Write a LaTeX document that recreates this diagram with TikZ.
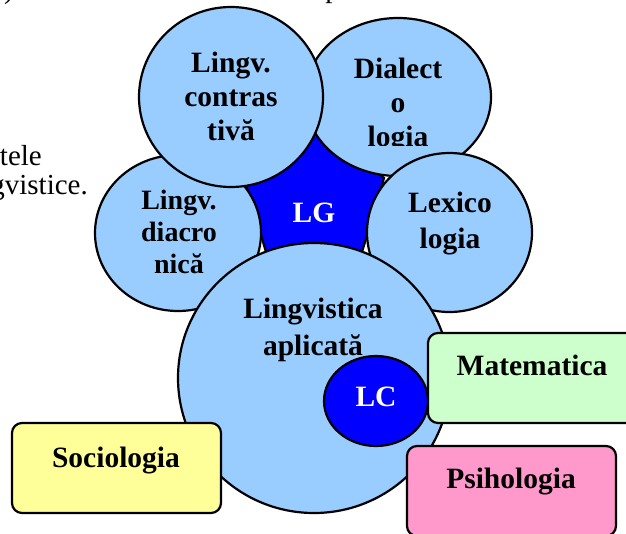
\documentclass[tikz,border=0pt]{standalone}
\usepackage{fontspec}
\setmainfont{Liberation Serif}
\usetikzlibrary{shapes.geometric}
\definecolor{lblue}{RGB}{153,204,255}
\definecolor{dblue}{RGB}{0,0,255}
\definecolor{lgreen}{RGB}{204,255,204}
\definecolor{lyellow}{RGB}{255,255,153}
\definecolor{lpink}{RGB}{255,153,204}
\tikzset{
  outl/.style={draw=black, line width=2.2pt},
  bubble/.style={outl, ellipse, fill=lblue, inner sep=0pt},
  core/.style={outl, ellipse, fill=dblue, inner sep=0pt},
  field/.style={outl, rectangle, rounded corners=10pt, inner sep=0pt},
  lbl/.style={font=\fontsize{29.5}{34}\selectfont\bfseries, align=center, anchor=base, inner sep=0pt},
  wlbl/.style={lbl, text=white},
  bg/.style={font=\fontsize{29}{34}\selectfont, anchor=base east, inner sep=0pt}
}
\begin{document}
\begin{tikzpicture}[x=1pt, y=-1pt]
\useasboundingbox (0,0) rectangle (626,533);
% background text fragments
\node[bg] (frA) at (14,-2) {)};
\node[bg] (frB) at (340,-3) {p};
\node[bg] (frC) at (42,165) {tele};
\node[bg] (frD) at (88,194) {gvistice.};
% LG pentagon
\draw[outl, fill=dblue, line join=miter] (316,120) -- (384,178) -- (362,252) -- (266,252) -- (244,178) -- cycle;
% Dialectologia
\node[bubble, minimum width=186pt, minimum height=158pt] (dial) at (398,97) {};
\begin{scope}
  \clip (300,30) rectangle (500,145);
  \node[lbl] (dialT) at (398,146) {Dialect\\o\\logia};
\end{scope}
% diacronica
\node[bubble, minimum width=166pt, minimum height=156pt] (diac) at (178,233) {};
\node[lbl, font=\fontsize{28}{32}\selectfont\bfseries] (diacT) at (179,273) {Lingv.\\diacro\\nică};
% contrastiva
\node[bubble, minimum width=184pt, minimum height=180pt] (contr) at (231,97) {};
\node[lbl] (contrT) at (231,140) {Lingv.\\contras\\tivă};
% lexicologia
\node[bubble, minimum width=165pt, minimum height=159pt] (lexi) at (449.5,232.5) {};
\node[lbl, font=\fontsize{29.5}{36}\selectfont\bfseries] (lexiT) at (450,248) {Lexico\\logia};
% LG label
\node[wlbl] (LG) at (314,222) {LG};
% Lingvistica aplicata
\node[bubble, minimum width=272pt, minimum height=270pt] (apl) at (314,378) {};
\node[lbl, font=\fontsize{29.5}{37}\selectfont\bfseries] (aplT) at (313,355) {Lingvistica\\aplicată};
% LC
\node[core, minimum width=104pt, minimum height=90pt] (LC) at (376,401) {};
\node[wlbl] (LCT) at (376,406) {LC};
% boxes
\node[field, fill=lgreen, minimum width=212pt, minimum height=90pt] (mat) at (534,378) {};
\node[lbl] (matT) at (532,375) {Matematica};
\node[field, fill=lyellow, minimum width=209pt, minimum height=90pt] (soc) at (116.5,468) {};
\node[lbl] (socT) at (116,467) {Sociologia};
\node[field, fill=lpink, minimum width=209pt, minimum height=90pt] (psi) at (511.5,491) {};
\node[lbl] (psiT) at (511,488) {Psihologia};
\end{tikzpicture}
\end{document}
